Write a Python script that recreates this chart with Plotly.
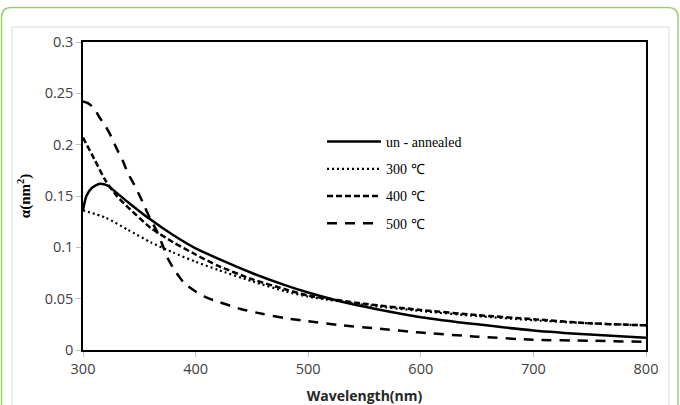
import plotly.graph_objects as go

# ---- data ----
x_unann = [300, 303, 308, 315, 322, 330, 340, 360, 380, 400, 420, 450, 480, 500, 530, 560, 600, 650, 700, 750, 800]
y_unann = [0.136, 0.150, 0.158, 0.162, 0.160, 0.153, 0.144, 0.127, 0.112, 0.099, 0.089, 0.075, 0.063, 0.056, 0.047, 0.040, 0.032, 0.025, 0.019, 0.015, 0.012]

x_300 = [300, 320, 340, 360, 380, 400, 420, 450, 480, 500, 550, 600, 650, 700, 750, 800]
y_300 = [0.136, 0.129, 0.117, 0.105, 0.095, 0.086, 0.078, 0.067, 0.057, 0.052, 0.044, 0.038, 0.033, 0.029, 0.026, 0.024]

x_400 = [300, 310, 320, 330, 340, 360, 380, 400, 420, 450, 480, 500, 550, 600, 650, 700, 750, 800]
y_400 = [0.207, 0.186, 0.165, 0.150, 0.139, 0.119, 0.105, 0.093, 0.082, 0.069, 0.059, 0.053, 0.045, 0.039, 0.034, 0.030, 0.026, 0.024]

x_500 = [300, 305, 310, 315, 320, 325, 330, 335, 340, 345, 350, 355, 360, 365, 370, 375, 380, 385, 390, 400, 410, 420, 440, 460, 480, 500, 530, 560, 600, 650, 700, 750, 800]
y_500 = [0.242, 0.240, 0.235, 0.226, 0.218, 0.208, 0.196, 0.185, 0.172, 0.162, 0.151, 0.139, 0.127, 0.117, 0.104, 0.090, 0.080, 0.072, 0.065, 0.057, 0.051, 0.047, 0.040, 0.035, 0.031, 0.028, 0.024, 0.021, 0.017, 0.013, 0.010, 0.009, 0.008]

series_names = ["un - annealed", "300 \u2103", "400 \u2103", "500 \u2103"]
x_ticks = [300, 400, 500, 600, 700, 800]
y_ticks = [0, 0.05, 0.1, 0.15, 0.2, 0.25, 0.3]
y_tick_text = ["0", "0.05", "0.1", "0.15", "0.2", "0.25", "0.3"]

fig = go.Figure()
styles = [
    dict(width=2.5, dash="solid"),
    dict(width=2.2, dash="2px,3px"),
    dict(width=2.5, dash="6px,3px"),
    dict(width=2.5, dash="10px,8px"),
]
for i, (xs, ys) in enumerate([(x_unann, y_unann), (x_300, y_300), (x_400, y_400), (x_500, y_500)]):
    fig.add_trace(go.Scatter(
        x=xs, y=ys, mode="lines", name=series_names[i], legendgroup=str(i),
        line=dict(color="black", shape="spline", smoothing=0.6, **styles[i]),
    ))

# plot area in pixels: left 83, right 646, top 42, bottom 350
L, R, T, B = 83, 646, 42, 350
W, H = R - L, B - T
def px(xp):
    return (xp - L) / W
def py(yp):
    return (B - yp) / H

def rounded_path(x0, y0, x1, y1, r):
    pts = [
        f"M {px(x0 + r)},{py(y0)}",
        f"L {px(x1 - r)},{py(y0)}",
        f"Q {px(x1)},{py(y0)} {px(x1)},{py(y0 + r)}",
        f"L {px(x1)},{py(y1)}",
        f"M {px(x0)},{py(y1)}",
        f"L {px(x0)},{py(y0 + r)}",
        f"Q {px(x0)},{py(y0)} {px(x0 + r)},{py(y0)}",
    ]
    return " ".join(pts)

shapes = [
    dict(type="path", xref="paper", yref="paper", path=rounded_path(1.5, 7.5, 678, 420, 10),
         line=dict(color="#9bd16a", width=1.5), layer="below"),
    dict(type="path", xref="paper", yref="paper",
         path=f"M {px(12)},{py(420)} L {px(12)},{py(27)} L {px(669)},{py(27)} L {px(669)},{py(420)}",
         line=dict(color="#dcdcdc", width=1), layer="below"),
]

fig.update_layout(
    width=680, height=405,
    margin=dict(l=L, r=680 - R, t=T, b=405 - B),
    paper_bgcolor="white", plot_bgcolor="white",
    shapes=shapes,
    showlegend=True,
    legend=dict(
        x=px(322), y=py(126), xanchor="left", yanchor="top",
        bgcolor="rgba(0,0,0,0)",
        font=dict(family="Liberation Serif, Times New Roman, serif", size=14, color="black"),
        tracegroupgap=6, traceorder="grouped", itemwidth=54,
    ),
    xaxis=dict(
        range=[300, 800], tickvals=x_ticks, ticktext=[str(v) for v in x_ticks],
        showgrid=False, zeroline=False, automargin=False,
        showline=True, linecolor="black", linewidth=1.5, mirror=True,
        ticks="outside", ticklen=5, tickcolor="#bfbfbf",
        tickfont=dict(family="Open Sans, sans-serif", size=14.5, color="#404040"),
        title=dict(text="<b>Wavelength(nm)</b>", standoff=14,
                   font=dict(family="Open Sans, sans-serif", size=14, color="#262626")),
    ),
    yaxis=dict(
        range=[0, 0.3], tickvals=y_ticks, ticktext=y_tick_text,
        showgrid=False, zeroline=False, automargin=False,
        showline=True, linecolor="black", linewidth=1.5, mirror=True,
        ticks="outside", ticklen=5, tickcolor="#bfbfbf",
        tickfont=dict(family="Open Sans, sans-serif", size=14.5, color="#404040"),
        title=dict(text="<b>\u03b1(nm<sup>2</sup>)</b>", standoff=10,
                   font=dict(family="Liberation Serif, Times New Roman, serif", size=15, color="black")),
    ),
)

fig.write_html("out.html", config={"displayModeBar": False},
               post_script="document.body.style.margin='0';document.body.style.overflow='hidden';")
